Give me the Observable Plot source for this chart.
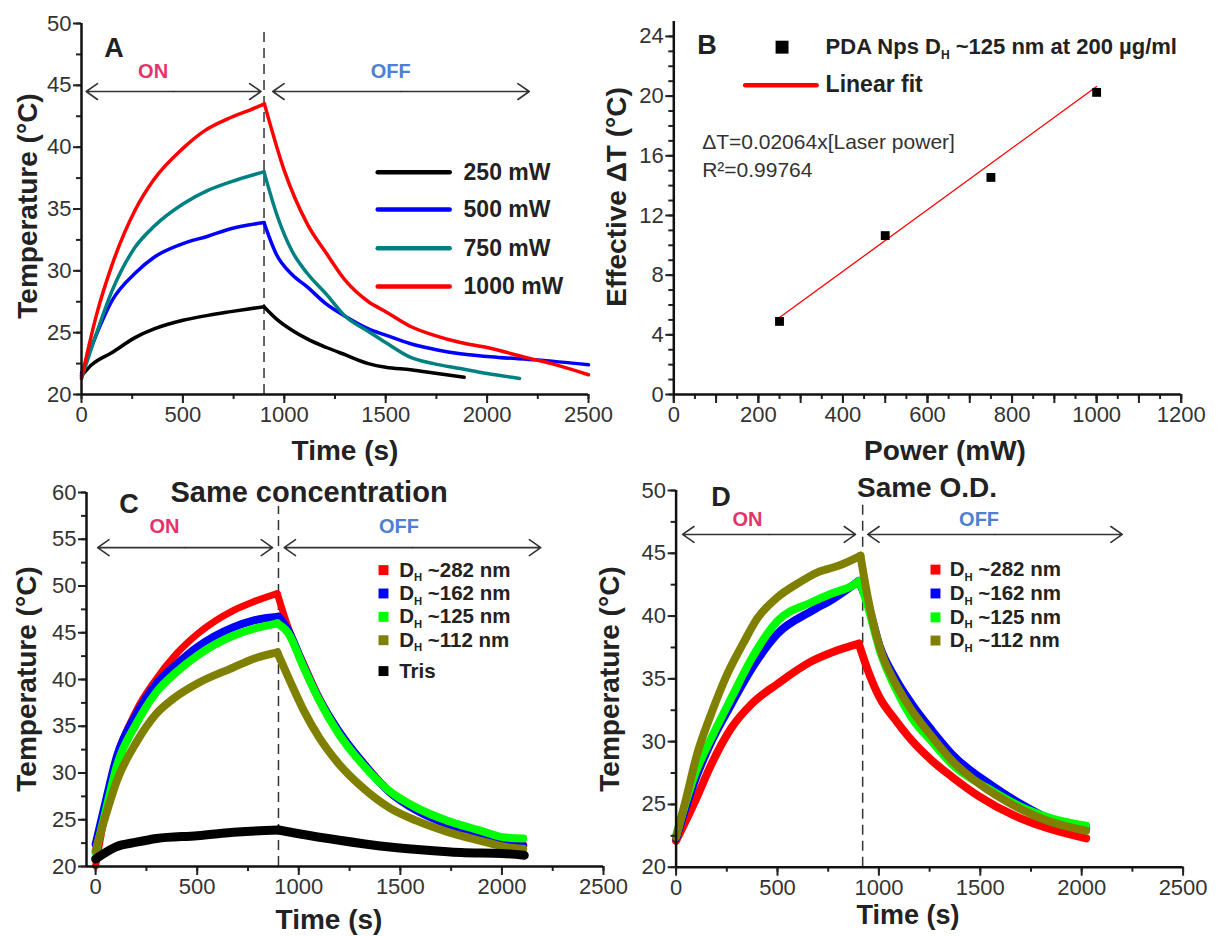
<!DOCTYPE html>
<html><head><meta charset="utf-8">
<script src="https://cdn.jsdelivr.net/npm/d3@7"></script>
<script src="https://cdn.jsdelivr.net/npm/@observablehq/plot@0.6"></script>
<style>
body{margin:0;background:#fff;}
#wrap{position:relative;width:1223px;height:936px;font-family:"Liberation Sans",Arial,Helvetica,sans-serif;overflow:hidden;}
.lbl{position:absolute;font-weight:bold;color:#222;white-space:nowrap;line-height:1;transform:translate(-50%,-50%);}
.rot{transform:translate(-50%,-50%) rotate(-90deg);}
</style></head><body><div id="wrap"></div>
<script>
// ---------------- DATA ----------------
// Panel A : temperature vs time for four laser powers  [time s, temperature °C]
const a250  = [[0,21.5],[50,22.4],[151,23.4],[264,24.6],[358,25.3],[500,26.0],[623,26.4],[736,26.7],[900,27.1],[962,26.1],[1038,25.2],[1113,24.5],[1208,23.8],[1302,23.2],[1415,22.5],[1500,22.2],[1623,22.0],[1755,21.7],[1887,21.4]];
const a500  = [[0,21.7],[75,24.9],[151,27.6],[264,29.8],[358,31.1],[500,32.2],[623,32.8],[736,33.4],[900,33.9],[962,31.3],[1038,29.7],[1113,28.7],[1208,27.3],[1302,26.3],[1415,25.3],[1500,24.8],[1623,24.1],[1755,23.6],[1868,23.3],[2057,23.0],[2245,22.8],[2500,22.4]];
const a750  = [[0,21.3],[75,25.0],[151,28.4],[264,31.9],[358,33.6],[500,35.4],[623,36.5],[736,37.2],[900,38.0],[962,34.6],[1038,31.6],[1113,29.8],[1208,28.1],[1302,26.3],[1415,25.1],[1500,24.2],[1623,23.0],[1736,22.5],[1868,22.1],[2000,21.7],[2160,21.3]];
const a1000 = [[0,21.3],[75,26.5],[151,30.5],[264,34.9],[358,37.4],[500,39.9],[604,41.3],[736,42.4],[830,43.0],[902,43.5],[1000,38.1],[1113,33.8],[1208,31.4],[1302,29.2],[1415,27.5],[1500,26.7],[1623,25.5],[1736,24.8],[1868,24.2],[2000,23.8],[2189,23.0],[2340,22.4],[2500,21.6]];
const labelsA = ["250 mW","500 mW","750 mW","1000 mW"];
const colorsA = ["#000000","#0000ff","#008080","#ff0000"];

// Panel B : effective ΔT vs power
const powerB = [250, 500, 750, 1000];
const deltaTB = [4.9, 10.65, 14.55, 20.25];
const fitSlopeB = 0.02064;

// Panel C : same concentration
const c282 = [[0,20.1],[50,26.0],[105,31.5],[201,36.7],[297,40.0],[392,42.6],[503,44.9],[679,47.4],[775,48.3],[894,49.2],[947,45.6],[1024,41.7],[1100,38.1],[1196,34.5],[1311,31.3],[1445,28.1],[1579,26.2],[1732,24.6],[1885,23.5],[2019,22.8],[2105,22.4]];
const c162 = [[0,22.4],[50,27.0],[105,31.8],[201,36.3],[297,39.5],[392,41.5],[503,43.5],[679,45.6],[775,46.3],[900,46.7],[947,45.3],[1024,41.4],[1100,37.9],[1196,34.5],[1311,31.2],[1445,28.0],[1579,26.0],[1732,24.5],[1885,23.4],[2019,22.6],[2105,22.2]];
const c125 = [[0,21.5],[50,26.0],[105,30.8],[201,35.3],[297,38.6],[392,40.7],[503,42.6],[679,44.7],[775,45.4],[894,46.0],[947,45.0],[1024,41.3],[1100,37.8],[1196,34.2],[1311,31.0],[1445,28.1],[1579,26.3],[1732,24.9],[1885,23.9],[2019,23.1],[2105,23.0]];
const c112 = [[0,21.7],[50,25.5],[105,29.2],[201,33.3],[297,36.3],[392,38.1],[503,39.6],[679,41.3],[775,42.2],[894,42.9],[947,40.3],[1024,36.7],[1100,33.8],[1196,31.0],[1311,28.5],[1445,26.3],[1579,24.9],[1732,23.7],[1885,22.8],[2019,22.1],[2105,21.9]];
const cTris = [[0,20.8],[100,22.1],[200,22.6],[300,23.0],[500,23.3],[700,23.7],[900,23.9],[1000,23.5],[1200,22.8],[1400,22.2],[1600,21.8],[1800,21.5],[2000,21.4],[2110,21.2]];
const labelsC = ["D_H ~282 nm","D_H ~162 nm","D_H ~125 nm","D_H ~112 nm","Tris"];
const colorsC = ["#ff0000","#0000ff","#00ff00","#808000","#000000"];

// Panel D : same O.D.
const d282 = [[0,22.1],[95,25.3],[174,28.2],[273,31.1],[372,33.0],[500,34.6],[668,36.4],[767,37.1],[901,37.8],[945,35.7],[1004,33.5],[1083,31.7],[1162,30.1],[1261,28.5],[1360,27.2],[1498,25.6],[1656,24.2],[1814,23.2],[2022,22.3]];
const d162 = [[0,22.3],[95,27.0],[174,30.0],[273,33.0],[372,35.8],[500,38.6],[668,40.4],[767,41.3],[901,42.8],[945,41.0],[1004,37.6],[1083,35.0],[1162,33.0],[1261,30.9],[1360,29.0],[1557,26.5],[1715,24.9],[1850,23.8],[2022,23.1]];
const d125 = [[0,22.5],[95,27.5],[174,30.3],[273,33.5],[372,36.6],[500,39.6],[668,41.1],[767,41.8],[866,42.4],[905,42.8],[945,40.8],[1004,37.3],[1083,34.2],[1162,31.9],[1261,30.0],[1360,28.2],[1557,26.1],[1715,24.7],[1850,23.9],[2022,23.3]];
const d112 = [[0,22.4],[50,25.5],[100,28.8],[175,32.3],[250,35.3],[330,37.8],[400,39.8],[500,41.5],[600,42.6],[700,43.5],[800,44.0],[909,44.8],[945,41.5],[1004,37.5],[1083,34.6],[1162,32.5],[1261,30.4],[1360,28.5],[1498,26.6],[1656,25.0],[1814,23.8],[2022,22.9]];
const labelsD = ["D_H ~282 nm","D_H ~162 nm","D_H ~125 nm","D_H ~112 nm"];
const colorsD = ["#ff0000","#0000ff","#00ff00","#808000"];

// tick values
const timeTicks = [0,500,1000,1500,2000,2500];
const tempTicksA = [20,25,30,35,40,45,50];
const tempTicksC = [20,25,30,35,40,45,50,55,60];
const powerTicks = [0,200,400,600,800,1000,1200];
const deltaTicks = [0,4,8,12,16,20,24];

// ---------------- RENDER ----------------
const FONT = '"Liberation Sans", Arial, Helvetica, sans-serif';
const ON_COLOR = "#e4336a", OFF_COLOR = "#4f7fd0", INK = "#222";
const W = document.getElementById("wrap");

function place(node, left, top){ node.style.position="absolute"; node.style.left=left+"px"; node.style.top=top+"px"; W.appendChild(node); }
function label(text, x, y, size, rot){ const d=document.createElement("div"); d.className="lbl"+(rot?" rot":""); d.textContent=text; d.style.left=x+"px"; d.style.top=y+"px"; d.style.fontSize=size+"px"; W.appendChild(d); }

function axes(xDom, yDom, xMajor, xMid, xMinor, yMajor, yMinor){
  const m = [];
  if (xMinor) m.push(Plot.axisX(xMinor, {tickSize:5, tickFormat:()=>"", strokeWidth:2, label:null}));
  if (xMid) m.push(Plot.axisX(xMid, {tickSize:9, tickFormat:()=>"", strokeWidth:2, label:null}));
  m.push(Plot.axisX(xMajor, {tickSize:9, tickPadding:3, strokeWidth:2, label:null, fontSize:22, fill:"#333", tickFormat:d=>String(d)}));
  if (yMinor) m.push(Plot.axisY(yMinor, {tickSize:5, tickFormat:()=>"", strokeWidth:2, label:null}));
  m.push(Plot.axisY(yMajor, {tickSize:8, tickPadding:2, strokeWidth:2, label:null, fontSize:22, fill:"#333", tickFormat:d=>String(d)}));
  m.push(Plot.ruleY([yDom[0]], {strokeWidth:2.5, stroke:"#111"}));
  m.push(Plot.ruleX([xDom[0]], {strokeWidth:2.5, stroke:"#111"}));
  return m;
}
function base(w,h,ml,mr,mt,mb,xDom,yDom,marks){
  return Plot.plot({width:w,height:h,marginLeft:ml,marginRight:mr,marginTop:mt,marginBottom:mb,
    x:{domain:xDom, axis:null}, y:{domain:yDom, axis:null},
    style:{fontFamily:FONT,fontSize:"22px",color:INK,background:"transparent",overflow:"visible"},
    marks});
}
function onOff(xOn, xOffC, xOnL, xOnR, xOffL, xOffR, yArrow, yText, dashX, dashTop, yBottom){
  const mOn=(xOnL+xOnR)/2, mOff=(xOffL+xOffR)/2;
  const arrows=[{x1:mOn,x2:xOnL},{x1:mOn,x2:xOnR},{x1:mOff,x2:xOffL},{x1:mOff,x2:xOffR}];
  return [
    Plot.ruleX([dashX], {y1:yBottom, y2:dashTop, stroke:"#333", strokeWidth:1.5, strokeDasharray:"10,6"}),
    Plot.arrow(arrows, {x1:"x1", x2:"x2", y1:()=>yArrow, y2:()=>yArrow, stroke:"#333", strokeWidth:1.6, headLength:13, headAngle:70}),
    Plot.text(["ON"], {x:()=>xOn, y:()=>yText, text:d=>d, fill:ON_COLOR, fontWeight:"bold", fontSize:20}),
    Plot.text(["OFF"], {x:()=>xOffC, y:()=>yText, text:d=>d, fill:OFF_COLOR, fontWeight:"bold", fontSize:20})
  ];
}
function subscriptH(svg){
  d3.select(svg).selectAll("text").each(function(){
    const s=this.textContent; if(!s.includes("D_H")) return;
    const [pre, post] = s.split("D_H");
    const t=d3.select(this); t.text(null);
    t.append("tspan").text(pre+"D");
    t.append("tspan").text("H").attr("font-size","0.55em").attr("dy","0.4em");
    t.append("tspan").text(post).attr("dy","-0.22em");
  });
}
// split a heating/cooling run at its peak so each phase is drawn as its own smooth curve
function phases(data){
  let k=0; data.forEach((d,i)=>{ if(d[1]>data[k][1]) k=i; });
  return [data.slice(0,k+1), data.slice(k)];
}
function curveMarks(data, opts){
  return phases(data).map(p=>Plot.line(p,{x:d=>d[0],y:d=>d[1],curve:"monotone-x",strokeLinejoin:"round",...opts}));
}
const px = d=>d[0], py = d=>d[1];

// ---- Panel A ----
{
  const xDom=[0,2500], yDom=[20,50];
  const series=[a250,a500,a750,a1000];
  const legY=[37.97,34.95,31.83,28.74];
  const marks=[
    ...onOff(353,1525,23,885,943,2208,44.5,46.1,900,49.6,20),
    ...series.flatMap((s,i)=>curveMarks(s,{stroke:colorsA[i],strokeWidth:3.5})),
    ...labelsA.map((l,i)=>Plot.ruleY([legY[i]],{x1:1463,x2:1818,stroke:colorsA[i],strokeWidth:4.5,strokeLinecap:"round"})),
    Plot.text(labelsA,{x:()=>1884,y:(d,i)=>legY[i],text:d=>d,textAnchor:"start",fontWeight:"bold",fontSize:23,fill:INK}),
    ...axes(xDom,yDom,timeTicks,null,d3.range(0,2501,250),tempTicksA,d3.range(20,50.1,2.5))
  ];
  place(base(610,470,81,22,23,76,xDom,yDom,marks),0,0);
  label("Temperature (°C)",28,206,28,true);
  label("Time (s)",345,451,28);
  label("A",114,48,27);
}
// ---- Panel B ----
{
  const xDom=[0,1200], yDom=[0,25];
  const fit=[powerB[0],powerB[powerB.length-1]].map(p=>[p,fitSlopeB*p]);
  const marks=[
    Plot.line(fit,{x:px,y:py,stroke:"#ff0000",strokeWidth:1.3}),
    Plot.dot(powerB.map((p,i)=>[p,deltaTB[i]]),{x:px,y:py,symbol:"square",r:5,fill:"#000"}),
    Plot.dot([0],{x:()=>256,y:()=>23.28,symbol:"square",r:7.3,fill:"#000"}),
    Plot.text(["PDA Nps D_H ~125 nm at 200 µg/ml"],{x:()=>359,y:()=>23.28,text:d=>d,textAnchor:"start",fontWeight:"bold",fontSize:22,fill:INK}),
    Plot.ruleY([20.72],{x1:170,x2:339,stroke:"#ff0000",strokeWidth:4.5,strokeLinecap:"round"}),
    Plot.text(["Linear fit"],{x:()=>359,y:()=>20.8,text:d=>d,textAnchor:"start",fontWeight:"bold",fontSize:23,fill:INK}),
    Plot.text(["ΔT=0.02064x[Laser power]"],{x:()=>67,y:()=>16.92,text:d=>d,textAnchor:"start",fontSize:21,fill:"#333"}),
    Plot.text(["R²=0.99764"],{x:()=>67,y:()=>15.02,text:d=>d,textAnchor:"start",fontSize:21,fill:"#333"}),
    ...axes(xDom,yDom,powerTicks,d3.range(0,1201,100),d3.range(0,1201,50),deltaTicks,d3.range(0,25,1))
  ];
  const svg=base(613,470,63.3,42.3,21,76,xDom,yDom,marks); subscriptH(svg);
  place(svg,610,0);
  label("Effective ΔT (°C)",617,197,28,true);
  label("Power (mW)",945,451,28);
  label("B",707,45,27);
}
// ---- Panel C ----
{
  const xDom=[-45,2500], yDom=[20,60];
  const series=[c282,c162,c125,c112,cTris];
  const legY=[51.7,49.2,46.7,44.2,40.9];
  const marks=[
    ...onOff(339,1493,10,871,928,2191,54.1,56.4,900,58.5,20),
    ...series.flatMap((s,i)=>curveMarks(s,{stroke:colorsC[i],strokeWidth:i==4?9:(i==0?7:8)})),
    Plot.dot(labelsC,{x:()=>1417,y:(d,i)=>legY[i],symbol:"square",r:5.6,fill:(d,i)=>colorsC[i]}),
    Plot.text(labelsC,{x:()=>1494,y:(d,i)=>legY[i],text:d=>d,textAnchor:"start",fontWeight:"bold",fontSize:20.5,fill:INK}),
    ...axes(xDom,yDom,timeTicks,null,d3.range(0,2501,250),tempTicksC,d3.range(20,60.1,2.5))
  ];
  const svg=base(610,466,86,7,22,70,xDom,yDom,marks); subscriptH(svg);
  place(svg,0,470);
  label("Temperature (°C)",27,679,28,true);
  label("Time (s)",329,920,28);
  label("C",129,504,27);
  label("Same concentration",309,492,29);
}
// ---- Panel D ----
{
  const xDom=[0,2500], yDom=[20,50];
  const series=[d282,d162,d125,d112];
  const legY=[43.7,41.8,39.9,38.05];
  const marks=[
    ...onOff(352,1494,32,885,945,2200,46.5,47.7,920,49.3,20),
    ...series.flatMap((s,i)=>curveMarks(s,{stroke:colorsD[i],strokeWidth:8})),
    Plot.dot(labelsD,{x:()=>1279,y:(d,i)=>legY[i],symbol:"square",r:5.6,fill:(d,i)=>colorsD[i]}),
    Plot.text(labelsD,{x:()=>1349,y:(d,i)=>legY[i],text:d=>d,textAnchor:"start",fontWeight:"bold",fontSize:20.5,fill:INK}),
    ...axes(xDom,yDom,timeTicks,null,d3.range(0,2501,250),tempTicksA,d3.range(20,50.1,2.5))
  ];
  const svg=base(613,466,65.6,40.4,20,69.3,xDom,yDom,marks); subscriptH(svg);
  place(svg,610,470);
  label("Temperature (°C)",610,679,28,true);
  label("Time (s)",908,915,27);
  label("D",721,497,27);
  label("Same O.D.",927,488,28);
}
</script></body></html>
